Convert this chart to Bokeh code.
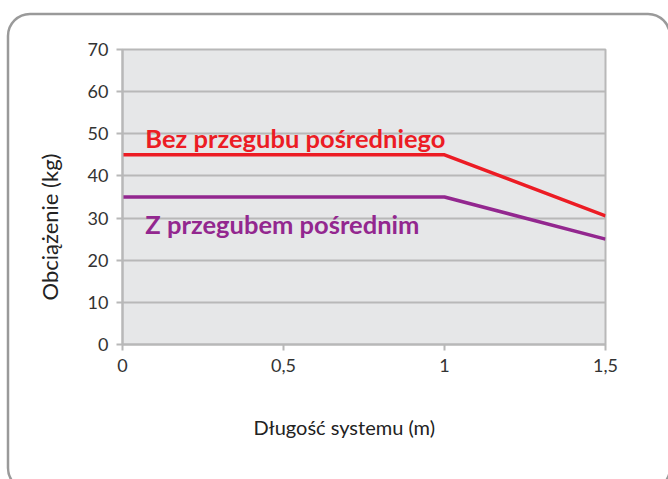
from urllib.parse import quote
from bokeh.plotting import figure
from bokeh.models import Range1d, FixedTicker, Label, Title
from bokeh.embed import file_html
from bokeh.resources import INLINE

# data
length_m = [0, 1, 1.5]
without_joint = [45, 45, 30.5]
with_joint = [35, 35, 25]
x_ticks = [0, 0.5, 1, 1.5]
x_tick_labels = ["0", "0,5", "1", "1,5"]
y_ticks = [0, 10, 20, 30, 40, 50, 60, 70]
label_without = "Bez przegubu pośredniego"
label_with = "Z przegubem pośrednim"
x_title = "Długość systemu (m)"
y_title = "Obciążenie (kg)"

RED = "#ec1c24"
PURPLE = "#93278f"
GRID = "#b8b8b8"
FONT = "Lato"

W, H = 668, 479
FL, FT, FB = 122, 49, 344  # frame left/top/bottom in canvas pixels

p = figure(width=W, height=H, output_backend="svg", toolbar_location=None,
           x_range=Range1d(0, 1.5), y_range=Range1d(0, 70),
           min_border_left=FL, min_border_right=63, min_border_top=FT,
           min_border_bottom=H - FB)
p.background_fill_color = "#e6e7e8"
p.border_fill_color = None
p.outline_line_color = GRID
p.outline_line_width = 2

# rounded outer frame of the card, drawn as the element's CSS background
box_svg = ("<svg xmlns='http://www.w3.org/2000/svg' width='%d' height='%d'>"
           "<rect x='8' y='14' width='662' height='476' rx='22' ry='22' "
           "fill='white' stroke='#9a9a9a' stroke-width='2.5'/></svg>") % (W, H)
p.styles = {"background-color": "white",
            "background-image": 'url("data:image/svg+xml;charset=utf-8,%s")' % quote(box_svg),
            "background-repeat": "no-repeat"}

p.xgrid.visible = False
p.ygrid.grid_line_color = GRID
p.ygrid.grid_line_width = 2
p.ygrid.ticker = FixedTicker(ticks=y_ticks)

p.xaxis.ticker = FixedTicker(ticks=x_ticks)
p.xaxis.major_label_overrides = {t: s for t, s in zip(x_ticks, x_tick_labels)}
p.yaxis.ticker = FixedTicker(ticks=y_ticks)
for ax in (p.xaxis, p.yaxis):
    ax.axis_line_color = GRID
    ax.axis_line_width = 2
    ax.major_tick_line_color = GRID
    ax.major_tick_line_width = 2
    ax.major_tick_out = 6
    ax.major_tick_in = 0
    ax.minor_tick_line_color = None
    ax.major_label_text_font = FONT
    ax.major_label_text_font_size = "18px"
    ax.major_label_text_color = "#333333"
    ax.major_label_standoff = 8

# axis titles as panel titles (offset lets them sit off-centre as in the reference)
p.add_layout(Title(text=x_title, align="left", offset=131, vertical_align="bottom",
                   standoff=76, text_font=FONT, text_font_size="20px",
                   text_font_style="normal", text_color="#222222"), "below")
p.add_layout(Title(text=y_title, align="left", offset=44, vertical_align="top",
                   standoff=39, text_font=FONT, text_font_size="22px",
                   text_font_style="normal", text_color="#222222"), "left")

p.line(length_m, without_joint, line_color=RED, line_width=3.5)
p.line(length_m, with_joint, line_color=PURPLE, line_width=3.5)

p.add_layout(Label(x=0.071, y=49.1, text=label_without, text_color=RED,
                   text_font=FONT, text_font_style="bold", text_font_size="25.5px",
                   text_baseline="alphabetic"))
p.add_layout(Label(x=0.071, y=28.5, text=label_with, text_color=PURPLE,
                   text_font=FONT, text_font_style="bold", text_font_size="25.5px",
                   text_baseline="alphabetic"))

open("out.html", "w").write(file_html(p, INLINE))
